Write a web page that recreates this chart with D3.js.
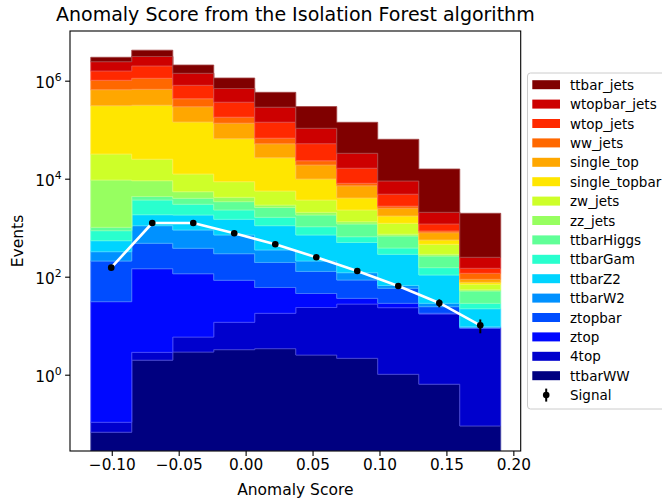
<!DOCTYPE html>
<html><head><meta charset="utf-8">
<script src="https://cdn.jsdelivr.net/npm/d3@7/dist/d3.min.js"></script>
<style>
body{margin:0;background:#fff;}
svg{display:block;font-family:"DejaVu Sans",sans-serif;}
</style>
</head><body>
<svg id="chart" width="662" height="498"></svg>
<script>
// ---- data ----
const binEdges = [-0.1157, -0.0851, -0.0544, -0.0238, 0.0068, 0.0375, 0.0681, 0.0987, 0.1294, 0.1600, 0.1906];

// stacked from bottom to top
const seriesNames = ["ttbarWW","4top","ztop","ztopbar","ttbarW2","ttbarZ2","ttbarGam","ttbarHiggs",
  "zz_jets","zw_jets","single_topbar","single_top","ww_jets","wtop_jets","wtopbar_jets","ttbar_jets"];
const seriesColors = ["#000080","#0000cd","#0008ff","#004dff","#0091ff","#00d4ff","#29ffce","#60ff97",
  "#97ff60","#ceff29","#ffe600","#ffa700","#ff6800","#ff2900","#cd0000","#800000"];

const ttbarWW      = [0.067, 1.98, 2.90, 3.24, 3.40, 2.52, 2.16, 1.02, 0.64, 0.090];
const top4         = [0.040, 0.88, 2.97, 8.5, 14.5, 21.0, 25.5, 22.3, 16.7, 8.76];
const ztop         = [30.8, 142.6, 109, 72.8, 42.4, 21.9, 8.5, 5.3, 0.6, 0.13];
const ztopbar      = [178, 335, 265, 210, 135, 82.6, 49.4, 29.4, 6.5, 0.21];
const ttbarW2      = [115, 618, 517, 416, 156, 81, 35.1, 8.1, 4.2, 0.36];
const ttbarZ2      = [219, 741, 919, 773, 748, 501, 378, 220, 79.8, 12.65];
const ttbarGam     = [326, 1830, 1194, 817, 530, 337, 156, 99, 44.6, 6.4];
const ttbarHiggs   = [150, 670, 970, 1100, 951, 769, 536, 292, 111, 22.5];
const zz_jets      = [8381, 4760, 1450, 770, 320, 244, 133, 60, 22, 3.0];
const zw_jets      = [22500, 15900, 7040, 4520, 2710, 1610, 976, 493, 172, 15.9];
const single_topbar= [277100, 291000, 131000, 56800, 21100, 6190, 1740, 504, 103, 6.9];
const single_top   = [346000, 351000, 150500, 70300, 24800, 9190, 3120, 756, 230, 11.6];
const ww_jets      = [364000, 452000, 134000, 44200, 15600, 4150, 890, 260, 66, 28.8];
const wtop_jets    = [559000, 881000, 377000, 184000, 75100, 28600, 8320, 2080, 334, 31];
const wtopbar_jets = [865000, 1120000, 611000, 329000, 145800, 55100, 16630, 4150, 870, 100.7];
const ttbar_jets   = [563000, 1070000, 673000, 442000, 291000, 190000, 108600, 54700, 13720, 1719];

const seriesValues = [ttbarWW, top4, ztop, ztopbar, ttbarW2, ttbarZ2, ttbarGam, ttbarHiggs,
  zz_jets, zw_jets, single_topbar, single_top, ww_jets, wtop_jets, wtopbar_jets, ttbar_jets];

const signal    = [153, 1247, 1247, 769, 458, 249, 131, 64.6, 29.1, 10.2];
const signalErr = [12.4, 35.3, 35.3, 27.7, 21.4, 15.8, 11.4, 8.0, 5.4, 3.2];

const xTicks = [-0.10, -0.05, 0.00, 0.05, 0.10, 0.15, 0.20];
const xTickLabels = ["\u22120.10", "\u22120.05", "0.00", "0.05", "0.10", "0.15", "0.20"];
const yTicks = [1, 100, 1e4, 1e6];
const yTickExps = ["0", "2", "4", "6"];

const titleText = "Anomaly Score from the Isolation Forest algorithm";
const xLabel = "Anomaly Score";
const yLabel = "Events";

// ---- layout ----
const L = 70, R = 520.7, T = 31, B = 451;
const svg = d3.select("#chart");

const x = d3.scaleLinear().domain([-0.1312, 0.2055]).range([L, R]);
const y = d3.scaleLog().domain([Math.pow(10, -1.557), Math.pow(10, 7.014)]).range([B, T]).clamp(true);

const nb = binEdges.length - 1;
const rows = d3.range(nb).map(i => {
  const o = {};
  seriesNames.forEach((n, k) => o[n] = seriesValues[k][i]);
  return o;
});
const stacked = d3.stack().keys(seriesNames)(rows);

svg.append("defs").append("clipPath").attr("id", "clip")
  .append("rect").attr("x", L).attr("y", T).attr("width", R - L).attr("height", B - T);

const plot = svg.append("g").attr("clip-path", "url(#clip)");

const area = d3.area()
  .curve(d3.curveStepAfter)
  .x(d => x(d.e))
  .y0(d => y(Math.max(d.lo, 1e-3)))
  .y1(d => y(d.hi));

stacked.forEach((layer, k) => {
  const pts = d3.range(nb + 1).map(i => {
    const b = layer[Math.min(i, nb - 1)];
    return {e: binEdges[i], lo: b[0], hi: b[1]};
  });
  const c = seriesColors[k];
  plot.append("path")
    .attr("d", area(pts))
    .attr("fill", c)
    .attr("stroke", d3.interpolateRgb(c, "#ffffff")(0.28))
    .attr("stroke-width", 0.8)
    .attr("stroke-linejoin", "miter");
});

// signal
const centers = d3.range(nb).map(i => (binEdges[i] + binEdges[i + 1]) / 2);
const line = d3.line().x((d, i) => x(centers[i])).y(d => y(d));
plot.append("path").attr("d", line(signal))
  .attr("fill", "none").attr("stroke", "#fff").attr("stroke-width", 2.6)
  .attr("stroke-linejoin", "round");
plot.selectAll(".err").data(signal).enter().append("line")
  .attr("x1", (d, i) => x(centers[i])).attr("x2", (d, i) => x(centers[i]))
  .attr("y1", (d, i) => y(d + signalErr[i])).attr("y2", (d, i) => y(d - signalErr[i]))
  .attr("stroke", "#000").attr("stroke-width", 2);
plot.selectAll(".pt").data(signal).enter().append("circle")
  .attr("cx", (d, i) => x(centers[i])).attr("cy", d => y(d)).attr("r", 3.3)
  .attr("fill", "#000");

// axes
const fs = 15.3;
const xAxis = svg.append("g").attr("transform", `translate(0,${B})`)
  .call(d3.axisBottom(x).tickValues(xTicks).tickFormat((d, i) => xTickLabels[i])
    .tickSize(4.9).tickPadding(3.5).tickSizeOuter(0));
xAxis.select(".domain").remove();
xAxis.selectAll(".tick line").attr("stroke", "#000").attr("stroke-width", 1.1);
xAxis.selectAll(".tick text").attr("font-size", fs).attr("fill", "#000")
  .attr("font-family", "DejaVu Sans");

const yAxis = svg.append("g").attr("transform", `translate(${L},0)`)
  .call(d3.axisLeft(y).tickValues(yTicks).tickFormat("").tickSize(4.9).tickSizeOuter(0));
yAxis.select(".domain").remove();
yAxis.selectAll(".tick line").attr("stroke", "#000").attr("stroke-width", 1.1);
yTicks.forEach((v, i) => {
  const t = svg.append("text").attr("x", L - 8.4).attr("y", y(v) + 7.5)
    .attr("text-anchor", "end").attr("font-size", fs).attr("fill", "#000");
  t.append("tspan").text("10");
  t.append("tspan").attr("dy", -7).attr("font-size", 10.8).text(yTickExps[i]);
});

// spines
svg.append("rect").attr("x", L).attr("y", T).attr("width", R - L).attr("height", B - T)
  .attr("fill", "none").attr("stroke", "#000").attr("stroke-width", 1.1);

// labels
svg.append("text").attr("x", (L + R) / 2).attr("y", 21).attr("text-anchor", "middle")
  .attr("font-size", 19).attr("fill", "#000").text(titleText);
svg.append("text").attr("x", (L + R) / 2).attr("y", 495).attr("text-anchor", "middle")
  .attr("font-size", 15.5).attr("fill", "#000").text(xLabel);
svg.append("text").attr("transform", `translate(23,${(T + B) / 2}) rotate(-90)`)
  .attr("text-anchor", "middle").attr("font-size", 15.5).attr("fill", "#000").text(yLabel);

// legend
const lg = svg.append("g");
lg.append("rect").attr("x", 527.5).attr("y", 73).attr("width", 145).attr("height", 336)
  .attr("rx", 3).attr("fill", "#fff").attr("fill-opacity", 0.8)
  .attr("stroke", "#cccccc").attr("stroke-width", 1);
const legendItems = seriesNames.map((n, k) => ({name: n, color: seriesColors[k]})).reverse();
legendItems.forEach((it, i) => {
  const cy = 84.7 + i * 19.4;
  lg.append("rect").attr("x", 532.3).attr("y", cy - 4.5).attr("width", 27.7).attr("height", 9)
    .attr("fill", it.color);
  lg.append("text").attr("x", 570).attr("y", cy + 5).attr("font-size", 13.5).attr("fill", "#000").text(it.name);
});
{
  const cy = 84.7 + 16 * 19.4;
  lg.append("line").attr("x1", 546.2).attr("x2", 546.2).attr("y1", cy - 6.5).attr("y2", cy + 6.5)
    .attr("stroke", "#000").attr("stroke-width", 2);
  lg.append("circle").attr("cx", 546.2).attr("cy", cy).attr("r", 3.3).attr("fill", "#000");
  lg.append("text").attr("x", 570).attr("y", cy + 5).attr("font-size", 13.5).attr("fill", "#000").text("Signal");
}
</script>
</body></html>
